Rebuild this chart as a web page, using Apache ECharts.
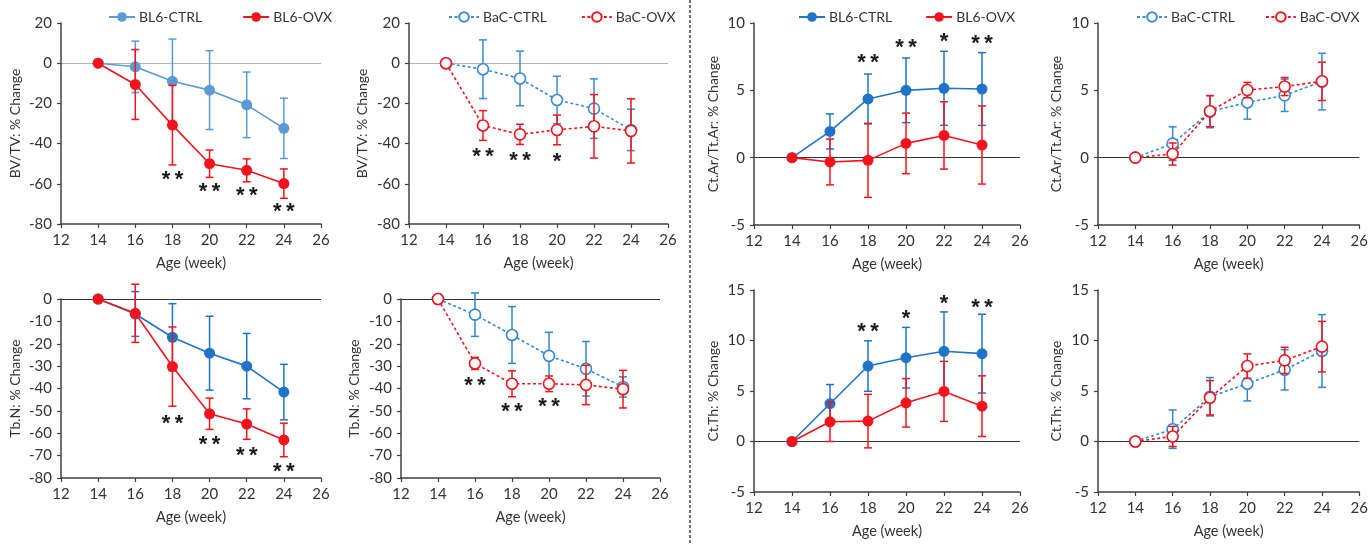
<!DOCTYPE html>
<html>
<head>
<meta charset="utf-8">
<script src="https://cdn.jsdelivr.net/npm/echarts@6/dist/echarts.min.js"></script>
<style>
  html, body { margin: 0; padding: 0; background: #fff; }
  #chart { width: 1371px; height: 545px; }
</style>
</head>
<body>
<div id="chart"></div>
<script>
// weeks of age
const weeks = [14, 16, 18, 20, 22, 24];

// BV/TV (% change)
const bvtvBl6Ctrl = [0, -1.8, -9, -13.4, -20.7, -32.4];
const bvtvBl6CtrlErr = [0, 12.8, 21, 19.6, 16.3, 15];
const bvtvBl6Ovx = [0, -10.6, -30.8, -50, -53.3, -59.9];
const bvtvBl6OvxErr = [0, 17.4, 19.8, 6.8, 5.7, 7.3];
const bvtvBl6Sig = ['', '', '**', '**', '**', '**'];
const bvtvBl6SigY = [0, 0, -55.6, -61.4, -63.6, -71.7];

const bvtvBacCtrl = [0, -3, -7.6, -18.3, -22.6, -33.2];
const bvtvBacCtrlErr = [0, 14.6, 13.6, 11.8, 14.8, 10.3];
const bvtvBacOvx = [0, -31, -35.4, -33.2, -31.4, -33.7];
const bvtvBacOvxErr = [0, 7.4, 5, 7.4, 15.8, 16];
const bvtvBacSig = ['', '**', '**', '*', '', ''];
const bvtvBacSigY = [0, -44, -46, -46.4, 0, 0];

// Ct.Ar/Tt.Ar (% change)
const ctarBl6Ctrl = [0, 1.95, 4.36, 5.0, 5.15, 5.1];
const ctarBl6CtrlErr = [0, 1.3, 1.85, 2.4, 2.75, 2.7];
const ctarBl6Ovx = [0, -0.32, -0.2, 1.06, 1.65, 0.94];
const ctarBl6OvxErr = [0, 1.7, 2.75, 2.25, 2.5, 2.9];
const ctarBl6Sig = ['', '', '**', '**', '*', '**'];
const ctarBl6SigY = [0, 0, 7.4, 8.5, 9.0, 8.8];

const ctarBacCtrl = [0, 1.04, 3.42, 4.1, 4.63, 5.65];
const ctarBacCtrlErr = [0, 1.25, 1.2, 1.24, 1.2, 2.1];
const ctarBacOvx = [0, 0.27, 3.45, 5.02, 5.28, 5.67];
const ctarBacOvxErr = [0, 0.82, 1.15, 0.57, 0.67, 1.42];

// Tb.N (% change)
const tbnBl6Ctrl = [0, -6.7, -17.1, -24.2, -30, -41.6];
const tbnBl6CtrlErr = [0, 10, 15, 16.5, 14.6, 12.4];
const tbnBl6Ovx = [0, -6.4, -30.2, -51.3, -55.9, -63];
const tbnBl6OvxErr = [0, 13, 17.7, 7, 6.8, 7.5];
const tbnBl6Sig = ['', '', '**', '**', '**', '**'];
const tbnBl6SigY = [0, 0, -53.7, -62.9, -67.7, -75.2];

const tbnBacCtrl = [0, -7, -16.1, -25.4, -31.2, -39.3];
const tbnBacCtrlErr = [0, 9.7, 12.7, 10.5, 12.2, 4.5];
const tbnBacOvx = [0, -28.8, -37.9, -37.9, -38.4, -40.3];
const tbnBacOvxErr = [0, 2.7, 5.8, 3.5, 8.8, 8.4];
const tbnBacSig = ['', '**', '**', '**', '', ''];
const tbnBacSigY = [0, -36.7, -48.2, -46, 0, 0];

// Ct.Th (% change)
const ctthBl6Ctrl = [0, 3.74, 7.47, 8.3, 8.93, 8.7];
const ctthBl6CtrlErr = [0, 1.9, 2.5, 3.0, 3.9, 3.9];
const ctthBl6Ovx = [0, 1.95, 2.02, 3.83, 4.96, 3.5];
const ctthBl6OvxErr = [0, 1.95, 2.65, 2.4, 2.97, 3.0];
const ctthBl6Sig = ['', '', '**', '*', '*', '**'];
const ctthBl6SigY = [0, 0, 11.3, 12.6, 14.1, 13.7];

const ctthBacCtrl = [0, 1.22, 4.43, 5.72, 7.1, 8.96];
const ctthBacCtrlErr = [0, 1.9, 1.9, 1.7, 2.0, 3.6];
const ctthBacOvx = [0, 0.5, 4.33, 7.47, 8.03, 9.39];
const ctthBacOvxErr = [0, 1.0, 1.7, 1.2, 1.3, 2.5];

const FONT = 'Lato';
const TXT = '#333';
const RED = '#f2141c';

const panels = [
  { grid: [61, 23, 260, 201], y: [-80, 20, 20], yName: 'BV/TV: % Change', gap: 39, zero: '#b4b4b4',
    strain: 'BL6', blue: '#5b9bd5', ctrl: bvtvBl6Ctrl, ctrlErr: bvtvBl6CtrlErr, ovx: bvtvBl6Ovx, ovxErr: bvtvBl6OvxErr,
    sig: bvtvBl6Sig, sigY: bvtvBl6SigY, legend: [103, 40] },
  { grid: [409, 23, 259, 201], y: [-80, 20, 20], yName: 'BV/TV: % Change', gap: 40, zero: '#b4b4b4',
    strain: 'BaC', blue: '#3a8ad2', ctrl: bvtvBacCtrl, ctrlErr: bvtvBacCtrlErr, ovx: bvtvBacOvx, ovxErr: bvtvBacOvxErr,
    sig: bvtvBacSig, sigY: bvtvBacSigY, legend: [443, 34] },
  { grid: [754, 23, 266, 202], y: [-5, 10, 5], yName: 'Ct.Ar/Tt.Ar: % Change', gap: 34, zero: '#333',
    strain: 'BL6', blue: '#1f74c8', ctrl: ctarBl6Ctrl, ctrlErr: ctarBl6CtrlErr, ovx: ctarBl6Ovx, ovxErr: ctarBl6OvxErr,
    sig: ctarBl6Sig, sigY: ctarBl6SigY, legend: [793, 33] },
  { grid: [1098, 23, 265, 202], y: [-5, 10, 5], yName: 'Ct.Ar/Tt.Ar: % Change', gap: 35, zero: '#333',
    strain: 'BaC', blue: '#3a8ad2', ctrl: ctarBacCtrl, ctrlErr: ctarBacCtrlErr, ovx: ctarBacOvx, ovxErr: ctarBacOvxErr,
    sig: null, sigY: null, legend: [1131, 30] },
  { grid: [61, 299, 260, 179], y: [-80, 0, 10], yName: 'Tb.N: % Change', gap: 39, zero: '#333',
    strain: 'BL6', blue: '#1f74c8', ctrl: tbnBl6Ctrl, ctrlErr: tbnBl6CtrlErr, ovx: tbnBl6Ovx, ovxErr: tbnBl6OvxErr,
    sig: tbnBl6Sig, sigY: tbnBl6SigY, legend: null },
  { grid: [401, 299, 259, 179], y: [-80, 0, 10], yName: 'Tb.N: % Change', gap: 40, zero: '#333',
    strain: 'BaC', blue: '#2e86d0', ctrl: tbnBacCtrl, ctrlErr: tbnBacCtrlErr, ovx: tbnBacOvx, ovxErr: tbnBacOvxErr,
    sig: tbnBacSig, sigY: tbnBacSigY, legend: null },
  { grid: [754, 290, 266, 202], y: [-5, 15, 5], yName: 'Ct.Th: % Change', gap: 34, zero: '#333',
    strain: 'BL6', blue: '#1f74c8', ctrl: ctthBl6Ctrl, ctrlErr: ctthBl6CtrlErr, ovx: ctthBl6Ovx, ovxErr: ctthBl6OvxErr,
    sig: ctthBl6Sig, sigY: ctthBl6SigY, legend: null },
  { grid: [1098, 290, 265, 202], y: [-5, 15, 5], yName: 'Ct.Th: % Change', gap: 35, zero: '#333',
    strain: 'BaC', blue: '#2e86d0', ctrl: ctthBacCtrl, ctrlErr: ctthBacCtrlErr, ovx: ctthBacOvx, ovxErr: ctthBacOvxErr,
    sig: null, sigY: null, legend: null }
];

function errSeries(i, color, vals, errs, z) {
  return {
    type: 'custom', xAxisIndex: i, yAxisIndex: i, silent: true, z: z,
    data: weeks.map((w, k) => [w, vals[k], errs[k]]),
    encode: { x: 0, y: 1 },
    renderItem: function (params, api) {
      const e = api.value(2);
      if (!e) return null;
      const x = api.value(0), y = api.value(1);
      const a = api.coord([x, y + e]), b = api.coord([x, y - e]);
      const st = { stroke: color, lineWidth: 1.5 };
      return { type: 'group', children: [
        { type: 'line', shape: { x1: a[0], y1: a[1], x2: b[0], y2: b[1] }, style: st },
        { type: 'line', shape: { x1: a[0] - 4, y1: a[1], x2: a[0] + 4, y2: a[1] }, style: st },
        { type: 'line', shape: { x1: b[0] - 4, y1: b[1], x2: b[0] + 4, y2: b[1] }, style: st }
      ] };
    }
  };
}

function lineSeries(i, name, color, vals, open, z, zero) {
  const s = {
    type: 'line', name: name, xAxisIndex: i, yAxisIndex: i, z: z, silent: true,
    data: weeks.map((w, k) => [w, vals[k]]),
    symbol: 'circle', symbolSize: 11,
    itemStyle: open ? { color: '#fff', borderColor: color, borderWidth: 1.6 } : { color: color },
    lineStyle: { color: color, width: 1.6, type: open ? [3, 2.5] : 'solid' },
    emphasis: { disabled: true }
  };
  if (zero) {
    s.markLine = { silent: true, symbol: 'none', label: { show: false }, z: 0,
      lineStyle: { color: zero, width: 1.2, type: 'solid' }, data: [{ yAxis: 0 }] };
  }
  return s;
}

function sigSeries(i, sig, sigY) {
  const data = [];
  weeks.forEach((w, k) => { if (sig[k]) data.push([w, sigY[k], k]); });
  return {
    type: 'custom', xAxisIndex: i, yAxisIndex: i, silent: true, z: 10,
    data: data, encode: { x: 0, y: 1 },
    renderItem: function (params, api) {
      const p = api.coord([api.value(0), api.value(1)]);
      const txt = sig[api.value(2)].split('').join('\u2009');
      return { type: 'text', x: p[0], y: p[1] + 5,
        style: { text: txt, fill: '#1a1a1a', font: 'bold 22px "Liberation Sans"',
          textAlign: 'center', textVerticalAlign: 'middle' } };
    }
  };
}

const grid = [], xAxis = [], yAxis = [], series = [], legend = [];
panels.forEach((p, i) => {
  grid.push({ left: p.grid[0], top: p.grid[1], width: p.grid[2], height: p.grid[3], containLabel: false });
  const axisLine = { show: true, onZero: false, lineStyle: { color: '#404040', width: 1.5 } };
  xAxis.push({
    type: 'value', gridIndex: i, min: 12, max: 26, interval: 2,
    name: 'Age (week)', nameLocation: 'middle', nameGap: 32,
    nameTextStyle: { fontFamily: FONT, fontSize: 14.5, color: TXT },
    axisLine: axisLine, axisTick: { show: true, length: 4, lineStyle: { color: '#404040', width: 1.2 } },
    axisLabel: { fontFamily: FONT, fontSize: 15, color: TXT, margin: 9 },
    splitLine: { show: false }
  });
  yAxis.push({
    type: 'value', gridIndex: i, min: p.y[0], max: p.y[1], interval: p.y[2],
    name: p.yName, nameLocation: 'middle', nameGap: p.gap, nameRotate: 90,
    nameTextStyle: { fontFamily: FONT, fontSize: 14, color: TXT },
    axisLine: axisLine, axisTick: { show: true, length: 4, lineStyle: { color: '#404040', width: 1.2 } },
    axisLabel: { fontFamily: FONT, fontSize: 15, color: TXT, margin: 9 },
    splitLine: { show: false }
  });
  const open = p.strain === 'BaC';
  const ctrlName = p.strain + '-CTRL #' + i;
  const ovxName = p.strain + '-OVX #' + i;
  series.push(errSeries(i, p.blue, p.ctrl, p.ctrlErr, 2));
  series.push(lineSeries(i, ctrlName, p.blue, p.ctrl, open, 3, p.zero));
  series.push(errSeries(i, RED, p.ovx, p.ovxErr, 4));
  series.push(lineSeries(i, ovxName, RED, p.ovx, open, 5, null));
  if (p.sig) series.push(sigSeries(i, p.sig, p.sigY));
  if (p.legend) {
    legend.push({
      left: p.legend[0], top: 5, itemGap: p.legend[1], itemWidth: open ? 30 : 26, itemHeight: 12,
      selectedMode: false, data: [ctrlName, ovxName],
      formatter: n => n.replace(/ #\d+$/, ''),
      textStyle: { fontFamily: FONT, fontSize: 14, color: TXT, padding: [0, 0, 0, -1] }
    });
  }
});

const chart = echarts.init(document.getElementById('chart'), null, { renderer: 'canvas' });
chart.setOption({
  animation: false,
  backgroundColor: '#fff',
  grid: grid, xAxis: xAxis, yAxis: yAxis, legend: legend, series: series,
  graphic: [{
    type: 'line', silent: true,
    shape: { x1: 690, y1: 0, x2: 690, y2: 545 },
    style: { stroke: '#444', lineWidth: 1.5, lineDash: [3, 2] }
  }]
});
</script>
</body>
</html>
